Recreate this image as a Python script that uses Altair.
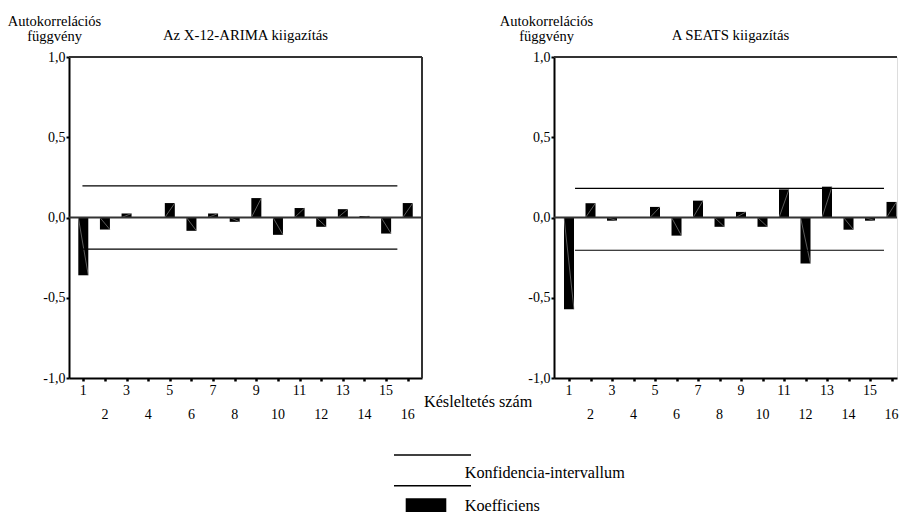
import altair as alt
import pandas as pd

# ---------------- data ----------------
lags = list(range(1, 17))
x_tick_labels = [str(v) for v in lags]

acf_x12 = [-0.36, -0.075, 0.025, 0.0, 0.09, -0.083, 0.025, -0.027,
           0.121, -0.108, 0.059, -0.058, 0.052, 0.009, -0.10, 0.09]
acf_seats = [-0.572, 0.089, -0.02, 0.0, 0.066, -0.113, 0.105, -0.058,
             0.035, -0.058, 0.175, -0.287, 0.192, -0.076, -0.02, 0.097]

conf_x12 = [0.197, -0.197]
conf_seats = [0.182, -0.204]
conf_span_x12 = [0.96, 15.52]
conf_span_seats = [1.28, 15.65]

y_ticks = [-1.0, -0.5, 0.0, 0.5, 1.0]
y_tick_labels = ["-1,0", "-0,5", "0,0", "0,5", "1,0"]

panel_titles = ["Az X-12-ARIMA kiigazítás", "A SEATS kiigazítás"]
y_title = ["Autokorrelációs", "függvény"]
x_title = "Késleltetés szám"
legend_labels = ["Konfidencia-intervallum", "Koefficiens"]

# ---------------- style ----------------
FONT = "Liberation Serif"
H = 321
HALF = 0.231  # half bar width in lag units

label_expr = " : ".join(
    f"datum.value == {v} ? '{l}'" for v, l in zip(y_ticks, y_tick_labels)
) + " : ''"


def panel(values, conf, span, title, width, xdom, ytitle_x, extras):
    bars = pd.DataFrame({"lag": lags, "acf": values, "label": x_tick_labels})
    conf_df = pd.DataFrame({"c": conf, "x0": [span[0]] * 2, "x1": [span[1]] * 2})
    one = pd.DataFrame({"t": [title]})

    xs = alt.Scale(domain=xdom, nice=False, zero=False, padding=0)
    ys = alt.Scale(domain=[-1, 1], nice=False, padding=0)
    xaxis = alt.Axis(values=lags, labels=False, title=None, grid=False,
                     domainColor="black", domainWidth=2, tickColor="black",
                     tickSize=3, tickWidth=2.5)
    yaxis = alt.Axis(values=y_ticks, labelExpr=label_expr, grid=False,
                     domainColor="black", domainWidth=2, tickColor="black",
                     tickSize=3, tickWidth=2, labelFontSize=14,
                     labelColor="black", labelPadding=1, labelFont=FONT,
                     title=y_title, titleAngle=0, titleAlign="center",
                     titleBaseline="alphabetic", titleX=ytitle_x, titleY=-32,
                     titleFontSize=14.5, titleFontWeight="normal",
                     titleColor="black", titleLineHeight=15, titleFont=FONT)

    X = alt.X("lag:Q", scale=xs, axis=xaxis)

    bar = alt.Chart(bars).mark_bar(size=10, color="black").encode(
        x=X, y=alt.Y("acf:Q", scale=ys, axis=yaxis), y2=alt.datum(0)
    )
    hatch = alt.Chart(bars).transform_filter("datum.acf != 0").transform_calculate(
        xa=f"datum.lag - {HALF}", xb=f"datum.lag + {HALF}", y0="0"
    ).mark_rule(color="#9a9a9a", strokeWidth=0.6).encode(
        x=alt.X("xa:Q", scale=xs, axis=xaxis), x2="xb:Q",
        y=alt.Y("y0:Q", scale=ys, axis=yaxis), y2="acf:Q"
    )
    zero = alt.Chart(one).mark_rule(color="#333", strokeWidth=2).encode(
        y=alt.Y(datum=0.0, scale=ys, axis=yaxis)
    )
    top = alt.Chart(one).mark_rule(color="#333", strokeWidth=2).encode(
        y=alt.Y(datum=1.0, scale=ys, axis=yaxis)
    )
    confl = alt.Chart(conf_df).mark_rule(color="black", strokeWidth=1.2).encode(
        x=alt.X("x0:Q", scale=xs, axis=xaxis), x2="x1:Q",
        y=alt.Y("c:Q", scale=ys, axis=yaxis)
    )
    odd = alt.Chart(bars).transform_filter("datum.lag % 2 == 1").mark_text(
        font=FONT, fontSize=14, baseline="middle", color="black"
    ).encode(x=X, y=alt.value(H + 13), text="label:N")
    even = alt.Chart(bars).transform_filter("datum.lag % 2 == 0").mark_text(
        font=FONT, fontSize=14, baseline="middle", color="black"
    ).encode(x=X, y=alt.value(H + 37), text="label:N")
    ttl = alt.Chart(one).mark_text(
        font=FONT, fontSize=14.8, baseline="alphabetic", align="center", color="black"
    ).encode(x=alt.value(176.5), y=alt.value(-17), text="t:N")

    layers = [bar, hatch, confl, zero, top, odd, even, ttl]

    if extras:
        right = alt.Chart(one).mark_rule(color="#333", strokeWidth=2).encode(
            x=alt.X(datum=xdom[1], scale=xs, axis=xaxis)
        )
        xt = alt.Chart(pd.DataFrame({"t": [x_title]})).mark_text(
            font=FONT, fontSize=16.2, baseline="middle", align="left", color="black"
        ).encode(x=alt.value(width + 2), y=alt.value(H + 24), text="t:N")
        leg_df = pd.DataFrame({"t": legend_labels})
        l1 = alt.Chart(one).mark_rule(color="black", strokeWidth=1.5).encode(
            x=alt.value(325), x2=alt.value(402), y=alt.value(398)
        )
        l2 = alt.Chart(one).mark_rule(color="black", strokeWidth=1.5).encode(
            x=alt.value(325), x2=alt.value(402), y=alt.value(428.7)
        )
        sw = alt.Chart(one).mark_rect(color="black").encode(
            x=alt.value(336.7), x2=alt.value(377.3), y=alt.value(441.3), y2=alt.value(455)
        )
        lt1 = alt.Chart(leg_df).transform_filter(
            alt.datum.t == legend_labels[0]
        ).mark_text(font=FONT, fontSize=16.2, baseline="middle", align="left",
                    color="black").encode(x=alt.value(395.7), y=alt.value(416), text="t:N")
        lt2 = alt.Chart(leg_df).transform_filter(
            alt.datum.t == legend_labels[1]
        ).mark_text(font=FONT, fontSize=16.2, baseline="alphabetic", align="left",
                    color="black").encode(x=alt.value(395.7), y=alt.value(454), text="t:N")
        layers += [right, xt, l1, l2, sw, lt1, lt2]

    return alt.layer(*layers).properties(width=width, height=H)


left = panel(acf_x12, conf_x12, conf_span_x12, panel_titles[0], 353,
             [0.339, 16.659], -15, True)
right = panel(acf_seats, conf_seats, conf_span_seats, panel_titles[1], 343,
              [0.302, 16.255], -8, False)

chart = alt.hconcat(left, right, spacing=132, bounds="flush").properties(
    padding={"left": 6, "top": 12, "right": 0, "bottom": 0}
).configure_view(stroke=None).configure(
    font=FONT, background="white"
).configure_axis(labelFont=FONT, titleFont=FONT)

chart.save("out.html", embed_options={"renderer": "svg", "actions": False})
